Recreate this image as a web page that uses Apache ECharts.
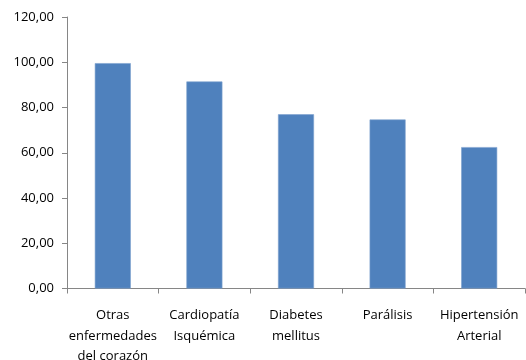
<!DOCTYPE html>
<html>
<head>
<meta charset="utf-8">
<script src="https://cdn.jsdelivr.net/npm/echarts@6/dist/echarts.min.js"></script>
<style>
  html, body { margin: 0; padding: 0; background: #fff; }
  #chart { width: 526px; height: 360px; }
</style>
</head>
<body>
<div id="chart"></div>
<script>
// Causes of death and their rates
const categories = [
  'Otras\nenfermedades\ndel corazón',
  'Cardiopatía\nIsquémica',
  'Diabetes\nmellitus',
  'Parálisis',
  'Hipertensión\nArterial'
];
const values = [99.6, 91.5, 77.0, 74.7, 62.5];

const axisGray = '#868686';
const font = '"Open Sans", "Liberation Sans", sans-serif';

const chart = echarts.init(document.getElementById('chart'));
chart.setOption({
  animation: false,
  grid: {
    left: 67, right: 1, top: 17, bottom: 71.5,
    containLabel: false, outerBoundsMode: 'none'
  },
  xAxis: {
    type: 'category',
    data: categories,
    axisLine: { lineStyle: { color: axisGray } },
    axisTick: { show: true, length: 5, lineStyle: { color: axisGray } },
    axisLabel: {
      color: '#000', fontFamily: font, fontSize: 13,
      lineHeight: 20.5, margin: 17, interval: 0
    }
  },
  yAxis: {
    type: 'value',
    min: 0, max: 120, interval: 20,
    axisLine: { show: true, lineStyle: { color: axisGray } },
    axisTick: { show: true, length: 5, lineStyle: { color: axisGray } },
    splitLine: { show: false },
    axisLabel: {
      color: '#000', fontFamily: font, fontSize: 13, margin: 13,
      formatter: v => v.toFixed(2).replace('.', ',')
    }
  },
  series: [{
    type: 'bar',
    data: values,
    barWidth: 36,
    itemStyle: { color: '#4F81BD', borderColor: '#7EA1CF', borderWidth: 0.6 }
  }]
});
</script>
</body>
</html>
